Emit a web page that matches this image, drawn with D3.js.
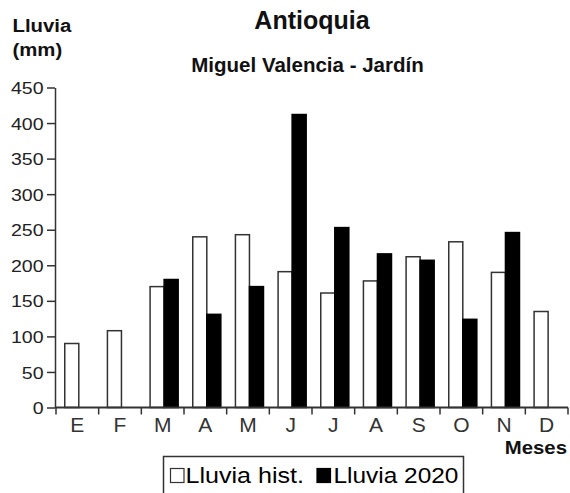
<!DOCTYPE html>
<html>
<head>
<meta charset="utf-8">
<script src="https://cdn.jsdelivr.net/npm/d3@7"></script>
<style>
  html, body { margin: 0; padding: 0; background: #fff; }
  svg { display: block; font-family: "Liberation Sans", Arial, sans-serif; }
</style>
</head>
<body>
<svg id="chart" width="570" height="493"></svg>
<script>
// ---- data ----
const months = ["E", "F", "M", "A", "M2", "J", "J2", "A2", "S", "O", "N", "D"];
const monthLabels = ["E", "F", "M", "A", "M", "J", "J", "A", "S", "O", "N", "D"];
const lluviaHist = [90, 108, 170, 240, 243, 191, 161, 178, 212, 233, 190, 135];
const lluvia2020 = [null, null, 180, 131, 170, 412, 253, 216, 207, 124, 246, null];
const yTicks = [0, 50, 100, 150, 200, 250, 300, 350, 400, 450];
const seriesNames = ["Lluvia hist.", "Lluvia 2020"];
const title = "Antioquia";
const subtitle = "Miguel Valencia - Jardín";
const yLabel = ["Lluvia", "(mm)"];
const xLabel = "Meses";

// ---- layout ----
const svg = d3.select("#chart");
const plotLeft = 55, plotRight = 568, plotTop = 87.5, plotBottom = 407.5;

const x = d3.scaleBand().domain(months).range([56, plotRight]).padding(0);
const sub = d3.scaleBand().domain([0, 1]).range([0, x.bandwidth()])
  .paddingInner(0).paddingOuter(0.52).align(0.6);
const y = d3.scaleLinear().domain([0, 450]).range([plotBottom, plotTop]);

const axisColor = "#333";

// bars
const g = svg.append("g");
months.forEach((m, i) => {
  const vals = [lluviaHist[i], lluvia2020[i]];
  vals.forEach((v, k) => {
    if (v == null) return;
    g.append("rect")
      .attr("x", x(m) + sub(k))
      .attr("y", y(v))
      .attr("width", sub.bandwidth())
      .attr("height", y(0) - y(v))
      .attr("fill", k === 0 ? "#fff" : "#000")
      .attr("stroke", k === 0 ? "#333" : "#000")
      .attr("stroke-width", 1.5);
  });
});

// y axis
const yAxis = svg.append("g")
  .attr("transform", `translate(${plotLeft},0)`)
  .call(d3.axisLeft(y).tickValues(yTicks).tickSize(8).tickPadding(2).tickSizeOuter(0));
yAxis.select(".domain").attr("stroke", axisColor).attr("stroke-width", 1.5);
yAxis.selectAll(".tick line").attr("stroke", axisColor).attr("stroke-width", 1.5);
yAxis.selectAll(".tick text")
  .attr("font-size", 17)
  .attr("fill", "#222")
  .attr("dy", "0.36em")
  .attr("transform", "scale(1.15,1)");

// x axis line
svg.append("line")
  .attr("x1", plotLeft).attr("x2", plotRight)
  .attr("y1", plotBottom).attr("y2", plotBottom)
  .attr("stroke", axisColor).attr("stroke-width", 1.8);

// x boundary ticks
const bounds = months.map(m => x(m)).concat([x.range()[1]]);
svg.append("g").selectAll("line").data(bounds).join("line")
  .attr("x1", d => d).attr("x2", d => d)
  .attr("y1", plotBottom).attr("y2", plotBottom + 7)
  .attr("stroke", axisColor).attr("stroke-width", 1.5);

// x labels
svg.append("g").selectAll("text").data(months).join("text")
  .attr("x", d => x(d) + x.bandwidth() / 2)
  .attr("y", 432)
  .attr("text-anchor", "middle")
  .attr("font-size", 21)
  .attr("fill", "#333")
  .text((d, i) => monthLabels[i]);

// titles
svg.append("text")
  .attr("x", 312).attr("y", 29)
  .attr("text-anchor", "middle")
  .attr("font-size", 25).attr("font-weight", "bold")
  .attr("fill", "#111")
  .text(title);
svg.append("text")
  .attr("x", 307.5).attr("y", 71.5)
  .attr("text-anchor", "middle")
  .attr("font-size", 20.5).attr("font-weight", "bold")
  .attr("fill", "#111")
  .text(subtitle);

// y label
yLabel.forEach((t, i) => {
  svg.append("text")
    .attr("x", 12.5 / 1.1).attr("y", i === 0 ? 31.7 : 56.5)
    .attr("transform", "scale(1.1,1)")
    .attr("font-size", 18.5).attr("font-weight", "bold")
    .attr("fill", "#111")
    .text(t);
});

// x label
svg.append("text")
  .attr("x", 567 / 1.15).attr("y", 454.3)
  .attr("transform", "scale(1.15,1)")
  .attr("text-anchor", "end")
  .attr("font-size", 17.7).attr("font-weight", "bold")
  .attr("fill", "#111")
  .text(xLabel);

// legend
const leg = svg.append("g");
leg.append("rect")
  .attr("x", 163.5).attr("y", 456.5)
  .attr("width", 300).attr("height", 50)
  .attr("fill", "#fff").attr("stroke", "#333").attr("stroke-width", 1.5);
const legItems = [
  { sq: 170.5, tx: 185.5, fill: "#fff", sx: 1.14 },
  { sq: 317, tx: 333.5, fill: "#000", sx: 1.11 }
];
legItems.forEach((it, k) => {
  leg.append("rect")
    .attr("x", it.sq).attr("y", 468.5)
    .attr("width", 13.5).attr("height", 14)
    .attr("fill", it.fill)
    .attr("stroke", k === 0 ? "#333" : "#000").attr("stroke-width", 1.2);
  leg.append("text")
    .attr("x", it.tx / it.sx).attr("y", 483.3)
    .attr("transform", `scale(${it.sx},1)`)
    .attr("font-size", 22)
    .attr("fill", "#000")
    .text(seriesNames[k]);
});
</script>
</body>
</html>
